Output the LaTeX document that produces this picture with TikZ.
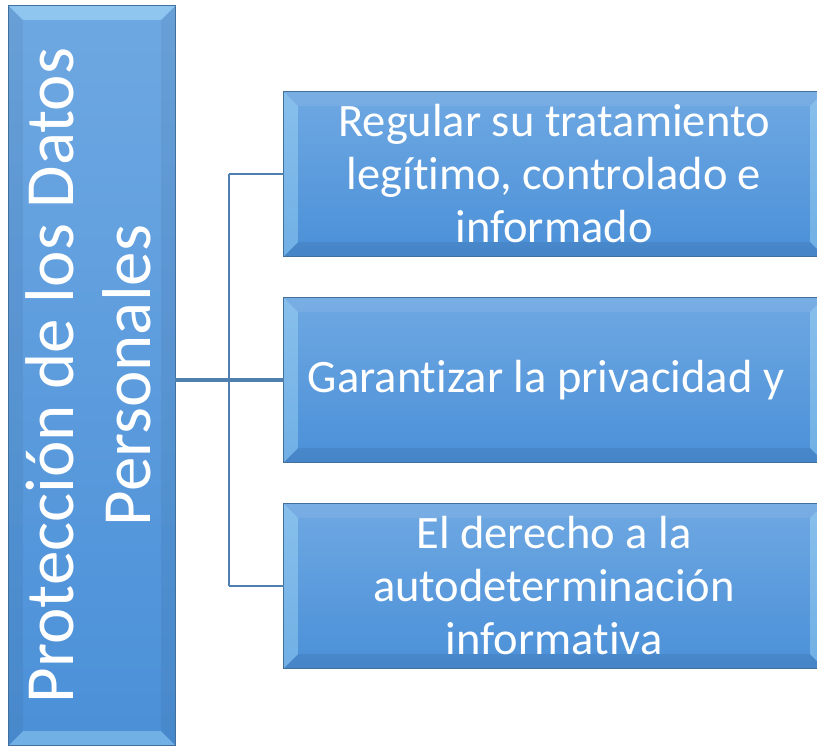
\documentclass[tikz,border=0pt]{standalone}
\usepackage{fontspec}
\setmainfont{Carlito}[Ligatures=NoCommon]
\definecolor{azulclaro}{HTML}{6EA8E2}
\definecolor{azuloscuro}{HTML}{4B90D8}
\definecolor{borde}{HTML}{41709C}
\definecolor{linea}{HTML}{4F7FAF}
\definecolor{celeste}{HTML}{B8ECFF}
\newcommand{\bw}{14pt}
% bisel: nombre, arriba, derecha, abajo, izquierda
\newcommand{\bisel}[5]{%
    \fill[#2] (#1.north west) -- (#1.north east) -- ([xshift=-\bw,yshift=-\bw]#1.north east) -- ([xshift=\bw,yshift=-\bw]#1.north west) -- cycle;
    \fill[#3] (#1.north east) -- (#1.south east) -- ([xshift=-\bw,yshift=\bw]#1.south east) -- ([xshift=-\bw,yshift=-\bw]#1.north east) -- cycle;
    \fill[#4] (#1.south east) -- (#1.south west) -- ([xshift=\bw,yshift=\bw]#1.south west) -- ([xshift=-\bw,yshift=\bw]#1.south east) -- cycle;
    \fill[#5] (#1.south west) -- (#1.north west) -- ([xshift=\bw,yshift=-\bw]#1.north west) -- ([xshift=\bw,yshift=\bw]#1.south west) -- cycle;
    \draw[borde, line width=1pt] (#1.north west) rectangle (#1.south east);
}
\begin{document}
\begin{tikzpicture}[x=1pt, y=-1pt,
    caja/.style={rectangle, top color=azulclaro, bottom color=azuloscuro, inner sep=0pt},
    texto/.style={text=white, align=center},
    conector/.style={draw=linea, line width=2pt}
]
    \useasboundingbox (0,0) rectangle (817,750);
    \clip (0,0) rectangle (817,750);

    \node [caja, minimum width=166pt, minimum height=739pt] (datos) at (92,375.5) {};
    \node [caja, minimum width=540pt, minimum height=164pt] (regular) at (554,174) {};
    \node [caja, minimum width=540pt, minimum height=164pt] (garantizar) at (554,380) {};
    \node [caja, minimum width=540pt, minimum height=164pt] (derecho) at (554,586) {};

    \bisel{datos}{celeste,opacity=0.45}{black,opacity=0.05}{celeste,opacity=0.35}{black,opacity=0.05}
    \bisel{regular}{white,opacity=0.08}{celeste,opacity=0.35}{black,opacity=0.07}{celeste,opacity=0.35}
    \bisel{garantizar}{white,opacity=0.08}{celeste,opacity=0.35}{black,opacity=0.07}{celeste,opacity=0.35}
    \bisel{derecho}{white,opacity=0.08}{celeste,opacity=0.35}{black,opacity=0.07}{celeste,opacity=0.35}

    \node [texto, rotate=90, font=\fontsize{69}{77}\selectfont] (titulo) at ([xshift=-4pt]datos.center) {Protección de los Datos\\Personales};
    \node [texto, font=\fontsize{46.5}{53}\selectfont] (t1) at (regular.center) {Regular su tratamiento\\legítimo, controlado e\\informado};
    \node [texto, font=\fontsize{46.5}{53}\selectfont] (t2) at ([xshift=-8pt]garantizar.center) {Garantizar la privacidad y};
    \node [texto, font=\fontsize{46.5}{53}\selectfont] (t3) at (derecho.center) {El derecho a la\\autodeterminación\\informativa};

    \coordinate (tronco) at (229,380);
    \draw [conector, line width=3.5pt] (datos.east |- garantizar.west) -- (garantizar.west);
    \draw [conector] (regular.west -| tronco) -- (derecho.west -| tronco);
    \draw [conector] (regular.west -| tronco) -- (regular.west);
    \draw [conector] (derecho.west -| tronco) -- (derecho.west);

\end{tikzpicture}
\end{document}
